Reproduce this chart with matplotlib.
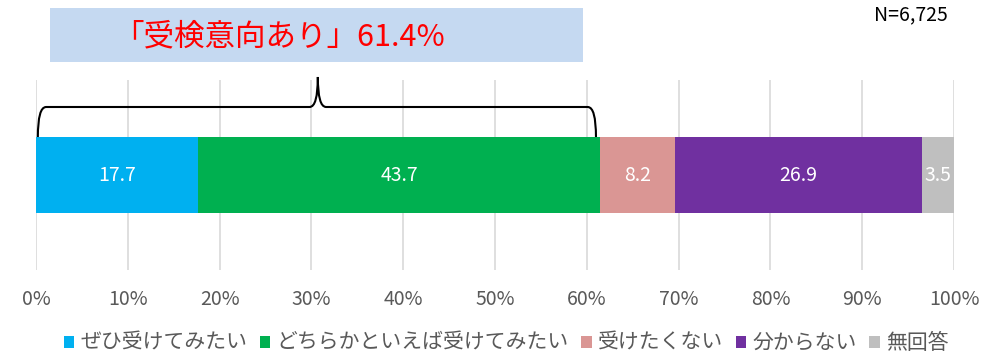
import matplotlib
matplotlib.use("Agg")
import matplotlib.pyplot as plt
from matplotlib.path import Path
from matplotlib.patches import PathPatch, Rectangle

plt.rcParams['font.family'] = ['Noto Sans CJK JP', 'DejaVu Sans']

categories = ["ぜひ受けてみたい", "どちらかといえば受けてみたい", "受けたくない", "分からない", "無回答"]
values = [17.7, 43.7, 8.2, 26.9, 3.5]
colors = ["#00B0F0", "#00B050", "#DA9694", "#7030A0", "#BFBFBF"]
xticks = [0, 10, 20, 30, 40, 50, 60, 70, 80, 90, 100]
xticklabels = [f"{t}%" for t in xticks]
title_text = "「受検意向あり」61.4%"
n_text = "N=6,725"

fig = plt.figure(figsize=(10, 3.55), dpi=100)
ax = fig.add_axes([0.036, 0.2394, 0.918, 0.5352])

left = 0
handles = []
for cat, v, c in zip(categories, values, colors):
    b = ax.barh(0, v, left=left, height=0.8, color=c, label=cat, zorder=3)
    handles.append(b)
    ax.text(left + v / 2, 0, f"{v:.1f}", ha="center", va="center",
            color="white", fontsize=14, zorder=4)
    left += v

ax.set_xlim(0, 100)
ax.set_ylim(-1, 1)
ax.set_xticks(xticks)
ax.set_xticklabels(xticklabels, fontsize=14, color="#595959")
ax.set_yticks([])
ax.grid(axis="x", color="#D9D9D9", linewidth=1.2, zorder=0)
for s in ax.spines.values():
    s.set_visible(False)
ax.tick_params(axis="x", length=0, pad=14)

# brace
x0 = 0.2
x1 = values[0] + values[1] - 0.4
xm = 30.7
yb, yt, yp = 0.70, 0.858, 1.016
d = 0.9
verts = [
    (x0, yb), (x0, yt), (x0 + d, yt),
    (xm - d, yt), (xm, yt), (xm, yp),
    (xm, yt), (xm + d, yt),
    (x1 - d, yt), (x1, yt), (x1, yb),
]
codes = [Path.MOVETO, Path.CURVE3, Path.CURVE3,
         Path.LINETO, Path.CURVE3, Path.CURVE3,
         Path.CURVE3, Path.CURVE3,
         Path.LINETO, Path.CURVE3, Path.CURVE3]
brace = PathPatch(Path(verts, codes), transform=ax.get_xaxis_transform(),
                  fill=False, edgecolor="black", linewidth=1.5, clip_on=False, zorder=5)
ax.add_patch(brace)

# title box
fig.patches.append(Rectangle((0.050, 1 - 62 / 355), 0.533, 54 / 355,
                             transform=fig.transFigure, facecolor="#C5D9F1",
                             edgecolor="none"))
fig.text(0.2795, 1 - 37 / 355, title_text, ha="center", va="center",
         color="#FF0000", fontsize=22)
fig.text(0.874, 1 - 15 / 355, n_text, ha="left", va="center",
         color="black", fontsize=14)

fig.legend(handles=handles, labels=categories, loc="center",
           bbox_to_anchor=(0.506, 1 - 343 / 355), ncol=5, frameon=False,
           fontsize=15, handlelength=0.5, handleheight=0.5, handletextpad=0.3,
           columnspacing=0.6, labelcolor="#595959")

fig.savefig("out.png", dpi=100)
